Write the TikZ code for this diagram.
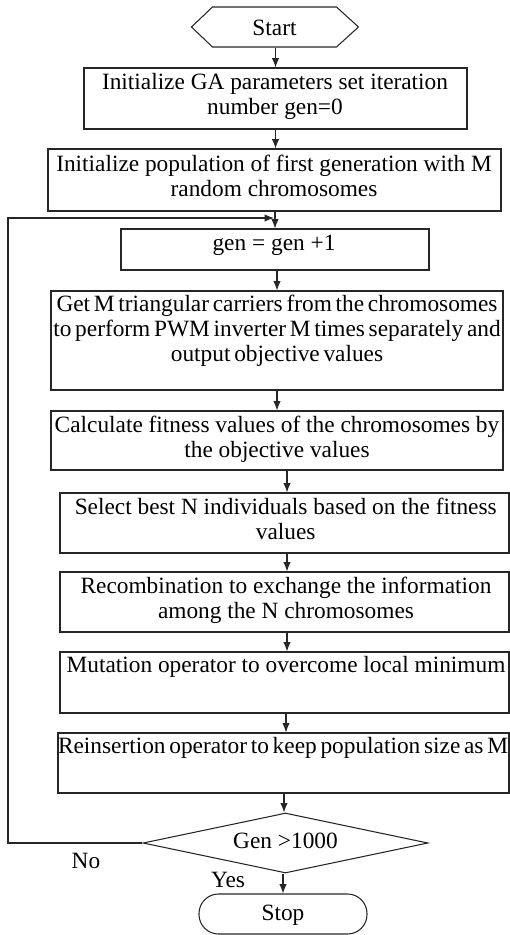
\documentclass[tikz,border=0pt]{standalone}
\usepackage{fontspec}
\setmainfont{Liberation Serif}
\usetikzlibrary{arrows.meta,shapes.geometric,calc}
\newcommand{\tightsp}{\spaceskip=0.16em\relax}
\begin{document}
\begin{tikzpicture}[x=0.75pt,y=-0.75pt,
  line width=0.8pt, color=black!85,
  box/.style 2 args={draw,rectangle,inner sep=0pt,
    minimum width=#1*0.75pt,minimum height=#2*0.75pt},
  txt/.style={inner sep=0pt,align=center,text=black,
    font=\fontsize{17.5pt}{18.75pt}\selectfont},
  tight/.style={font=\fontsize{17.5pt}{18.75pt}\selectfont\tightsp},
  arr/.style={-{Latex[length=7pt,width=5.5pt]}}]
\useasboundingbox (0,0) rectangle (510,935);

% start hexagon
\node[inner sep=0pt,minimum width=167*0.75pt,minimum height=40*0.75pt] (start) at (275.5,27) {};
\draw (start.west) -- ++(21,-20) -- ++(124,0) -- ++(22,20) -- ++(-22,20) -- ++(-124,0) -- cycle;
\node[txt,anchor=base] (ts) at (274.5,35) {Start};

% boxes
\node[box={383}{61}] (b1) at (275.5,98.5) {};
\node[box={453}{62}] (b2) at (274.5,180) {};
\node[box={308}{41}] (b3) at (275,249.5) {};
\node[box={452}{99}] (b4) at (277,340.5) {};
\node[box={452}{59}] (b5) at (277,440.5) {};
\node[box={449}{60}] (b6) at (284.5,523) {};
\node[box={449}{60}] (b7) at (284.5,602) {};
\node[box={449}{61}] (b8) at (284.5,682.5) {};
\node[box={451}{60}] (b9) at (283.5,763) {};
\node[diamond,draw,inner sep=0pt,aspect=4.75,
  minimum width=285*0.75pt,minimum height=60*0.75pt] (d) at (285.5,843) {};
\node[draw,rectangle,rounded corners=19.5*0.75pt,inner sep=0pt,
  minimum width=168*0.75pt,minimum height=40*0.75pt] (stop) at (283,914) {};

% texts
\node[txt,anchor=north] (t1) at (275,71.8) {\strut Initialize GA parameters set iteration\\number gen=0};
\node[txt,anchor=north] (t2) at (274,153.2) {\strut Initialize population of first generation with M\\random chromosomes};
\node[txt,anchor=base] (t3) at (274,250) {gen = gen +1};
\node[txt,tight,anchor=north] (t4) at (277,293.5) {\strut Get M triangular carriers from the chromosomes\\to perform PWM inverter M times separately and\\output objective values};
\node[txt,anchor=north] (t5) at (277,414.2) {\strut Calculate fitness values of the chromosomes by\\the objective values};
\node[txt,anchor=north] (t6) at (285.7,496.5) {\strut Select best N individuals based on the fitness\\values};
\node[txt,anchor=north] (t7) at (286,575.5) {\strut Recombination to exchange the information\\among the N chromosomes};
\node[txt,anchor=base] (t8) at (286,672) {Mutation operator to overcome local minimum};
\node[txt,tight,anchor=base] (t9) at (283,753) {Reinsertion operator to keep population size as M};
\node[txt,anchor=base] (td) at (285.5,848) {Gen >1000};
\node[txt,anchor=base] (tstop) at (283,920) {Stop};
\node[txt,anchor=base] (no) at (86,868) {No};
\node[txt,anchor=base] (yes) at (228,887) {Yes};

% axes for arrows
\coordinate (ax1) at (287,0);
\coordinate (ax2) at (286,0);
\coordinate (ax3) at (284,0);
\coordinate (j) at (274,218);
\coordinate (lft) at (8,218);

% connectors
\draw[arr] (start.south) -- (b1.north);
\draw[arr] (b1.south) -- (b1.south |- b2.north);
\draw[arr] (b2.south -| b3.north) -- (b3.north);
\draw[arr] (b3.south -| b4.north) -- (b4.north);
\draw[arr] (b4.south) -- (b5.north);
\draw[arr] (b5.south -| ax1) -- (b6.north -| ax1);
\draw[arr] (b6.south -| ax1) -- (b7.north -| ax1);
\draw[arr] (b7.south -| ax1) -- (b8.north -| ax1);
\draw[arr] (b8.south -| ax2) -- (b9.north -| ax2);
\draw[arr] (b9.south -| ax3) -- (d.north -| ax3);
\draw[arr] (d.south -| stop.north) -- (stop.north);
\draw[arr] (d.west) -| (lft) -- (j);
\end{tikzpicture}
\end{document}
